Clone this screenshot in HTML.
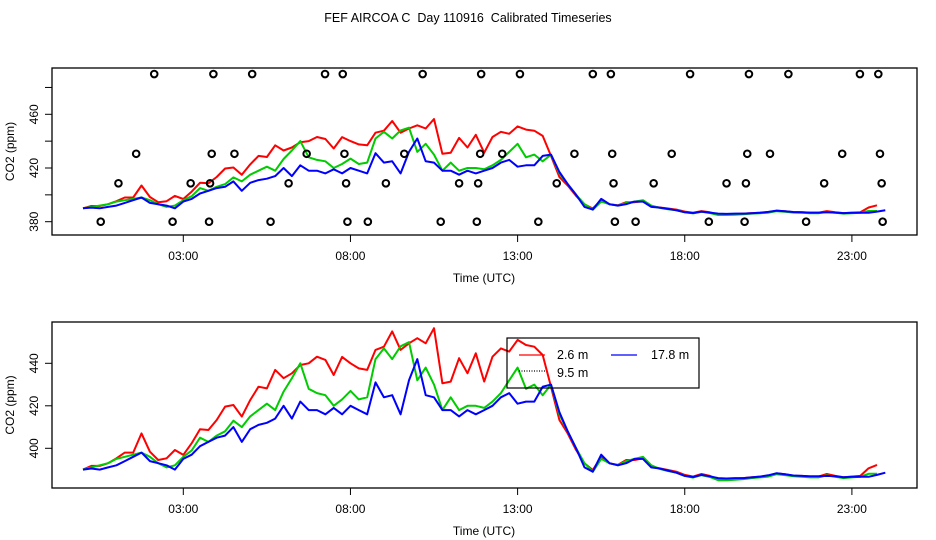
<!DOCTYPE html>
<html><head><meta charset="utf-8"><style>
html,body{margin:0;padding:0;background:#fff;}
svg{display:block;font-family:"Liberation Sans",sans-serif;}
</style></head><body>
<svg id="chart" width="936" height="540" xmlns="http://www.w3.org/2000/svg">
<rect width="936" height="540" fill="#fff"/>
<text x="468" y="22" text-anchor="middle" font-size="12.5" style="white-space:pre" xml:space="preserve">FEF AIRCOA C  Day 110916  Calibrated Timeseries</text>
<g id="top"></g>
<g id="bot"></g>
</svg>
<script>
const hourStep = 0.25;
const redVals = [390,391.7,391.7,393,395.3,398,398,407,398.4,394.5,395.3,399.2,396.9,402.4,409,408.6,413.3,419.6,420.4,414.9,422.7,429,428.2,436.9,433,435.3,439.2,440,443.1,441.6,434.5,443,440,437.6,436.9,446.3,447.8,455,446.3,449.4,451.8,449.4,456.5,430.6,431.4,442.4,435.3,444.7,431.4,443.1,447,445.5,451,448.6,447.8,443.9,429,413.3,407,399.2,392.9,389.8,396,392.9,392.2,394.5,394.5,395.3,391.4,390.6,389.8,389,387.5,386.7,387.9,387,385.4,385.4,385.7,386,386.4,386.7,387,388.2,387.8,387.1,387,386.7,386.7,387.9,387,386.4,386.7,387,390.6,392.2];
const greenVals = [390,391,392,393,395,396,397,398,396,393,391,392,396,399,405,403,406,408,413,410,415,418,421,418,426.7,433,440,428,426,425,420,423,427,423,424,442,447,442,448,450,432,438,430,418,424,418,420,420,419,422,426,432,438,428,430,425,430,416,408,400,393,389,395,393,392,394,395,396,392,390.3,389.3,388.5,387,386.2,387.4,386.5,385,385,385.2,385.5,386,386.3,386.7,387.8,387.4,386.8,386.6,386.3,386.3,387.3,386.6,386,386.3,386.6,388,388];
const blueVals = [390,390.5,390,391,392,394,396,398,394,393,392,390,395,397,401,403,405,406,410,403,409,411,412,414,420,414,422,418,418,416,419,416,420,418,416,431,424,425,416,432,442,425,424,418,418,415,418,416,418,420,424,426,421,422,422,429,430,417,408,400,391,389,397,393,392,393,395,395,391,390.5,389.5,388.5,387,386.5,387.5,386.8,386,385.8,386,386,386.3,386.7,387.3,388.3,387.8,387.2,387,386.8,386.8,387,386.8,386.4,386.6,386.7,386.6,387.5,388.5];
const flag490Hours = [2.13,3.90,5.06,7.24,7.77,10.16,11.91,13.07,15.25,15.79,18.16,19.92,21.10,23.24,23.79];
const flag430Hours = [1.59,3.85,4.53,6.69,7.82,9.61,11.88,12.54,14.70,15.83,17.61,19.87,20.55,22.71,23.84];
const flag408Hours = [1.06,3.22,3.80,6.15,7.87,9.06,11.25,11.82,14.17,15.87,17.07,19.25,19.83,22.17,23.89];
const flag380Hours = [0.53,2.68,3.77,5.61,7.91,8.52,10.70,11.78,13.62,15.91,16.53,18.72,19.79,21.63,23.92];
const flagLevels = [490,430.6,408.6,380];
const xTickHours = [3,8,13,18,23];
const xTickLabels = ["03:00","08:00","13:00","18:00","23:00"];
const topYTicks = [380,400,420,440,460,480];
const topYLabels = [380,420,460];
const botYTicks = [400,420,440];
const botYLabels = [400,420,440];

const NS = "http://www.w3.org/2000/svg";
function mk(parent, tag, attrs){const e=document.createElementNS(NS,tag);for(const k in attrs)e.setAttribute(k,attrs[k]);parent.appendChild(e);return e;}
const xS = h => 183.3 + (h-3)*33.43;
const L=52, R=917;

function panel(g, top, bottom, yS, yTicks, yLabels, withFlags, idp){
  const clipId = idp+"clip";
  const cp = mk(g,'clipPath',{id:clipId});
  mk(cp,'rect',{x:L,y:top,width:R-L,height:bottom-top});
  const series=[[redVals,'#ff0000','red'],[greenVals,'#00cc00','green'],[blueVals,'#0000ff','blue']];
  const lines = mk(g,'g',{'clip-path':`url(#${clipId})`});
  for(const [vals,col,nm] of series){
    const d = vals.map((v,i)=>(i?'L':'M')+xS(i*hourStep).toFixed(1)+' '+yS(v).toFixed(1)).join(' ');
    const p = mk(lines,'path',{d:d,fill:'none',stroke:col,'stroke-width':2,'stroke-linejoin':'round'});
    
    
  }
  if(withFlags){
    const sets=[flag490Hours,flag430Hours,flag408Hours,flag380Hours];
    sets.forEach((hs,k)=>hs.forEach(h=>{
      const c = mk(g,'circle',{cx:xS(h),cy:yS(flagLevels[k]),r:3.3,fill:'none',stroke:'#000','stroke-width':2});
      
      
    }));
  }
  const box = mk(g,'rect',{x:L,y:top,width:R-L,height:bottom-top,fill:'none',stroke:'#000','stroke-width':1.3});
  
  
  xTickHours.forEach((h,i)=>{
    mk(g,'line',{x1:xS(h),x2:xS(h),y1:bottom,y2:bottom+7,stroke:'#000'});
    const t = mk(g,'text',{x:xS(h),y:bottom+25,'text-anchor':'middle','font-size':12});
    t.textContent = xTickLabels[i];
    
    
  });
  yTicks.forEach(v=>mk(g,'line',{x1:L-7,x2:L,y1:yS(v),y2:yS(v),stroke:'#000'}));
  yLabels.forEach(v=>{
    const t = mk(g,'text',{x:0,y:0,'text-anchor':'middle','font-size':12,transform:`translate(38,${yS(v)}) rotate(-90)`});
    t.textContent = v;
    
    
  });
  const yt = mk(g,'text',{x:0,y:0,'text-anchor':'middle','font-size':12,transform:`translate(14,${(top+bottom)/2}) rotate(-90)`});
  yt.textContent='CO2 (ppm)';
  
  
  const xt = mk(g,'text',{x:484,y:bottom+47,'text-anchor':'middle','font-size':12});
  xt.textContent='Time (UTC)';
  
  
}
panel(document.getElementById('top'),68,235,v=>221.7-(v-380)*1.3425,topYTicks,topYLabels,true,'t');
const bg=document.getElementById('bot');
panel(bg,322,488,v=>448.3-(v-400)*2.125,botYTicks,botYLabels,false,'b');
// legend
const lg = mk(bg,'g',{});


mk(lg,'rect',{x:507,y:338,width:192,height:50,fill:'none',stroke:'#000','stroke-width':1.2});
mk(lg,'line',{x1:519,x2:545,y1:355,y2:355,stroke:'#ff0000','stroke-width':1.2});
mk(lg,'line',{x1:519,x2:545,y1:371,y2:371,stroke:'#000','stroke-width':1.2,'stroke-dasharray':'1 1.5'});
mk(lg,'line',{x1:611,x2:637,y1:355,y2:355,stroke:'#0000ff','stroke-width':1.2});
[["2.6 m",557,359],["9.5 m",557,377],["17.8 m",651,359]].forEach(([s,x,y])=>{
  const t=mk(lg,'text',{x:x,y:y,'font-size':12.5});
  t.textContent=s;
  
  
});
</script>
</body></html>
